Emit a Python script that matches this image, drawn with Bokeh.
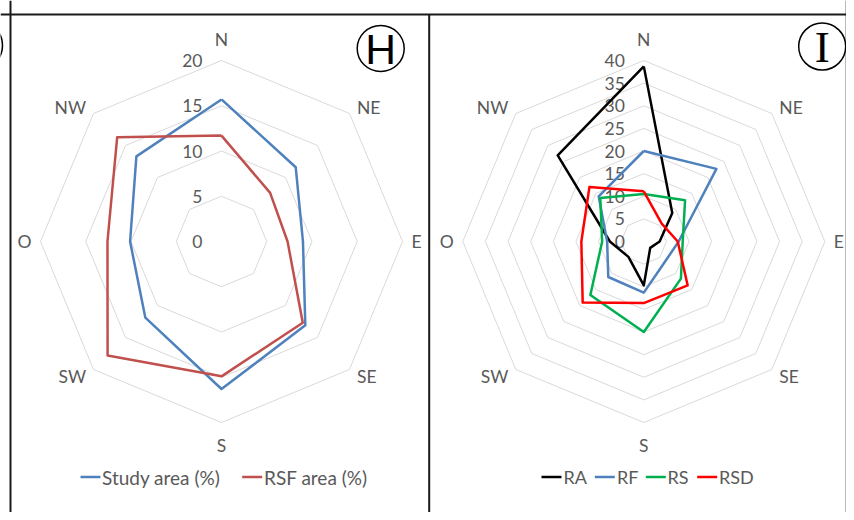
import numpy as np
from bokeh.plotting import figure
from bokeh.models import Range1d
from bokeh.embed import file_html
from bokeh.resources import INLINE
from bokeh.core.properties import value

# ---------------- data ----------------
directions = ["N", "NE", "E", "SE", "S", "SW", "O", "NW"]

h_ticks = [0, 5, 10, 15, 20]
study_area = [15.7, 11.6, 9.0, 13.1, 16.3, 11.9, 10.1, 13.3]
rsf_area = [11.7, 7.6, 7.3, 12.7, 14.9, 17.8, 12.6, 16.3]
h_series_names = ["Study area (%)", "RSF area (%)"]

i_ticks = [0, 5, 10, 15, 20, 25, 30, 35, 40]
ra = [38.7, 8.9, 3.5, 2.0, 9.7, 4.8, 7.5, 26.9]
rf = [20.0, 22.7, 7.7, 6.5, 11.3, 11.1, 8.1, 14.1]
rs = [10.5, 12.9, 8.6, 11.6, 20.0, 16.7, 9.2, 13.6]
rsd = [11.1, 5.6, 7.5, 13.7, 13.6, 19.1, 13.8, 17.0]
i_series_names = ["RA", "RF", "RS", "RSD"]

# ---------------- style ----------------
FONT = value("Lato")
TXT = "#595959"
GRID = "#d9d9d9"
R = 181.0
ang = np.deg2rad(np.arange(8) * 45.0)

p = figure(width=846, height=512, x_range=Range1d(0, 846), y_range=Range1d(512, 0),
           output_backend="svg", toolbar_location=None, min_border=0,
           x_axis_type=None, y_axis_type=None)
p.grid.visible = False
p.outline_line_color = None
p.background_fill_color = "white"
p.border_fill_color = "white"


def poly(cx, cy, scale, vals):
    v = np.asarray(vals, dtype=float)
    xs = cx + scale * v * np.sin(ang)
    ys = cy - scale * v * np.cos(ang)
    return list(xs) + [xs[0]], list(ys) + [ys[0]]


def radar(cx, cy, ticks, series, colors):
    vmax = ticks[-1]
    scale = R / vmax
    for t in ticks[1:]:
        xs, ys = poly(cx, cy, scale, [t] * 8)
        p.line(xs, ys, line_color=GRID, line_width=1)
    p.text(x=[cx - 19] * len(ticks), y=[cy - t * scale for t in ticks],
           text=[str(t) for t in ticks], text_align="right", text_baseline="middle",
           text_font=FONT, text_font_size="17.5px", text_color=TXT)
    # direction labels
    offs = [(0, -21, "center"), (7.5, -6.5, "left"), (9, 0, "left"), (7.5, 7, "left"),
            (0, 22.5, "center"), (-7.5, 7, "right"), (-9, 0, "right"), (-7.5, -6.5, "right")]
    for k, d in enumerate(directions):
        vx = cx + R * np.sin(ang[k])
        vy = cy - R * np.cos(ang[k])
        dx, dy, al = offs[k]
        p.text(x=[vx + dx], y=[vy + dy], text=[d], text_align=al, text_baseline="middle",
               text_font=FONT, text_font_size="17.5px", text_color=TXT)
    for vals, col in zip(series, colors):
        xs, ys = poly(cx, cy, scale, vals)
        p.line(xs, ys, line_color=col, line_width=2.5, line_join="round")


h_colors = ["#4F81BD", "#C0504D"]
i_colors = ["#000000", "#4F81BD", "#00B050", "#FF0000"]

radar(221.0, 241.0, h_ticks, [study_area, rsf_area], h_colors)
radar(643.3, 241.0, i_ticks, [ra, rf, rs, rsd], i_colors)

# legends
LY = 476.5
for (x0, tx), name, col in zip([(80, 101.5), (241.7, 263.5)], h_series_names, h_colors):
    p.line([x0, x0 + 20], [LY, LY], line_color=col, line_width=2.5)
    p.text(x=[tx], y=[LY], text=[name], text_align="left", text_baseline="middle",
           text_font=FONT, text_font_size="19px", text_color=TXT)
for (x0, tx), name, col in zip([(541, 563), (594.3, 616.5), (645.3, 667), (696.7, 718.5)],
                               i_series_names, i_colors):
    p.line([x0, x0 + 20], [LY, LY], line_color=col, line_width=2.5)
    p.text(x=[tx], y=[LY], text=[name], text_align="left", text_baseline="middle",
           text_font=FONT, text_font_size="18px", text_color=TXT)

# panel frames
FR = "#1a1a1a"
p.segment(x0=[0, 10, 428.7, 846.2], y0=[14, 0, 14, 0], x1=[846.2, 10, 428.7, 846.2],
          y1=[14, 512, 512, 512], line_color=FR, line_width=2)

# panel letters in circles (G of the neighbouring panel is only partly visible)
p.ellipse(x=[-22, 380.2, 821.7], y=[45, 48, 46], width=[48, 47, 47], height=[48, 46, 47],
          fill_color=None, line_color="black", line_width=1.5)
p.text(x=[380.2], y=[48], text=["H"], text_align="center", text_baseline="middle",
       text_font=value("Lato"), text_font_size="41px", text_color="black")
p.text(x=[821.7], y=[46], text=["I"], text_align="center", text_baseline="middle",
       text_font=value("Liberation Serif"), text_font_size="45px", text_color="black")

open("out.html", "w").write(file_html(p, INLINE))
